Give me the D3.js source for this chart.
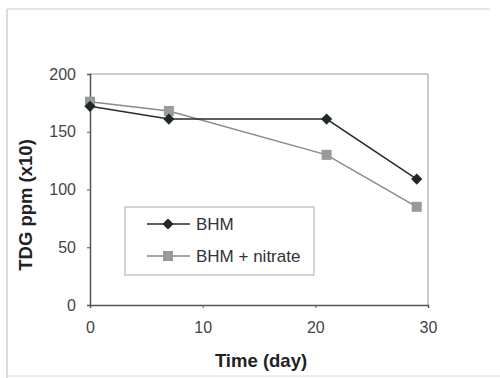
<!DOCTYPE html>
<html lang="en">
<head>
    <meta charset="UTF-8">
    <title>TDG over time</title>
    <script src="https://d3js.org/d3.v7.min.js"></script>
    <style>
        body { margin: 0; background: #fff; }
        svg { display: block; }
        .tick text { font-family: "Liberation Sans", Arial, sans-serif; font-size: 16px; fill: #444; }
        .axis_title { font-family: "Liberation Sans", Arial, sans-serif; font-size: 18.5px; font-weight: bold; fill: #222; }
        .legend_text { font-family: "Liberation Sans", Arial, sans-serif; font-size: 17px; fill: #333; }
    </style>
</head>
<body>
<svg width="500" height="378"></svg>

<script>
    // data
    const days = [0, 7, 21, 29];
    const bhm = [172, 161, 161, 109];
    const bhmNitrate = [176, 168, 130, 85];
    const seriesNames = ["BHM", "BHM + nitrate"];
    const xTicks = [0, 10, 20, 30];
    const yTicks = [0, 50, 100, 150, 200];

    let svg = d3.select("svg");

    // plot area
    const plotLeft = 90, plotRight = 428, plotTop = 74, plotBottom = 305;

    let x = d3.scaleLinear().domain([0, 30]).range([plotLeft, plotRight]);
    let y = d3.scaleLinear().domain([0, 200]).range([plotBottom, plotTop]);

    // outer frame (faint, like the scanned page)
    svg.append("line").attr("x1", 7).attr("x2", 7).attr("y1", 9).attr("y2", 378)
        .attr("stroke", "#bbb").attr("stroke-width", 1);
    svg.append("line").attr("x1", 7).attr("x2", 490).attr("y1", 9).attr("y2", 9)
        .attr("stroke", "#ccc").attr("stroke-width", 1);
    svg.append("line").attr("x1", 7).attr("x2", 500).attr("y1", 376).attr("y2", 376)
        .attr("stroke", "#ddd").attr("stroke-width", 1);

    // top and right border of plot area
    svg.append("path")
        .attr("d", `M${plotLeft},${plotTop}H${plotRight}V${plotBottom}`)
        .attr("fill", "none").attr("stroke", "#999").attr("stroke-width", 1);

    // axes
    let xAxis = svg.append("g").attr("transform", `translate(0,${plotBottom})`)
        .call(d3.axisBottom(x).tickValues(xTicks).tickSize(3).tickPadding(14));
    let yAxis = svg.append("g").attr("transform", `translate(${plotLeft},0)`)
        .call(d3.axisLeft(y).tickValues(yTicks).tickSize(3).tickPadding(11));

    [xAxis, yAxis].forEach(function (g) {
        g.select(".domain").attr("stroke", "#555").attr("stroke-width", 1.5);
        g.selectAll(".tick line").attr("stroke", "#555");
    });

    // axis titles
    svg.append("text").attr("class", "axis_title")
        .attr("x", 261).attr("y", 367).attr("text-anchor", "middle")
        .text("Time (day)");
    svg.append("text").attr("class", "axis_title")
        .attr("transform", "translate(32,205) rotate(-90)")
        .attr("text-anchor", "middle")
        .text("TDG ppm (x10)");

    let line = d3.line()
        .x(function (d, i) { return x(days[i]); })
        .y(function (d) { return y(d); });

    const lineColors = ["#2a2a2a", "#8a8a8a"];
    const markColors = ["#1f2a24", "#9a9a9a"];

    // nitrate drawn first, BHM on top
    svg.append("path").attr("d", line(bhmNitrate))
        .attr("fill", "none").attr("stroke", lineColors[1]).attr("stroke-width", 1.5);
    svg.append("g").selectAll("rect")
        .data(bhmNitrate).enter().append("rect")
        .attr("x", function (d, i) { return x(days[i]) - 5; })
        .attr("y", function (d) { return y(d) - 5; })
        .attr("width", 10).attr("height", 10)
        .attr("fill", markColors[1]);

    svg.append("path").attr("d", line(bhm))
        .attr("fill", "none").attr("stroke", lineColors[0]).attr("stroke-width", 1.5);
    let diamond = d3.symbol().type(d3.symbolDiamond2).size(80);
    svg.append("g").selectAll("path")
        .data(bhm).enter().append("path")
        .attr("d", diamond)
        .attr("transform", function (d, i) { return `translate(${x(days[i])},${y(d)})`; })
        .attr("fill", markColors[0]);

    // legend
    let legend = svg.append("g");
    legend.append("rect").attr("x", 125).attr("y", 207).attr("width", 189).attr("height", 68)
        .attr("fill", "#fff").attr("stroke", "#aaa").attr("stroke-width", 1);

    const legendY = [224, 256];
    seriesNames.forEach(function (name, i) {
        legend.append("line").attr("x1", 147).attr("x2", 190)
            .attr("y1", legendY[i]).attr("y2", legendY[i])
            .attr("stroke", lineColors[i]).attr("stroke-width", 1.5);
        if (i === 0) {
            legend.append("path").attr("d", diamond)
                .attr("transform", `translate(168,${legendY[i]})`)
                .attr("fill", markColors[0]);
        } else {
            legend.append("rect").attr("x", 163).attr("y", legendY[i] - 5)
                .attr("width", 10).attr("height", 10).attr("fill", markColors[1]);
        }
        legend.append("text").attr("class", "legend_text")
            .attr("x", 196).attr("y", legendY[i] + 6)
            .text(name);
    });
</script>
</body>
</html>
